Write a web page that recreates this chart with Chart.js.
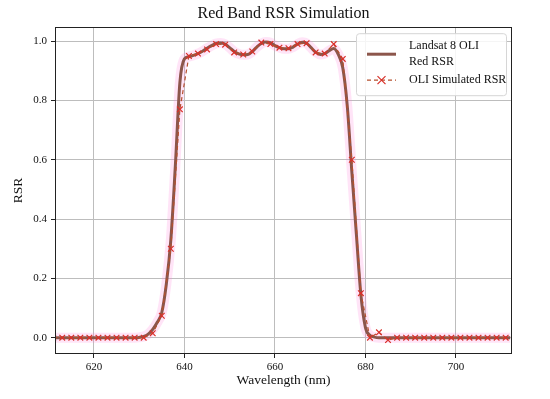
<!DOCTYPE html>
<html>
<head>
<meta charset="utf-8">
<script src="https://cdn.jsdelivr.net/npm/chart.js@4"></script>
<style>
  html, body { margin: 0; padding: 0; background: #fff; }
  #wrap { width: 550px; height: 399px; position: relative; }
</style>
</head>
<body>
<div id="wrap"><canvas id="c" width="550" height="399"></canvas></div>
<script>
// ---- data ----
const lineWavelengths = [611,612,613,614,615,616,617,618,619,620,621,622,623,624,625,626,627,628,629,630,
  631,632,633,634,635,636,637,638,639,640,641,642,643,644,645,646,647,648,649,650,
  651,652,653,654,655,656,657,658,659,660,661,662,663,664,665,666,667,668,669,670,
  671,672,673,674,675,676,677,678,679,680,681,682,683,684,685,686,687,688,689,690,
  691,692,693,694,695,696,697,698,699,700,701,702,703,704,705,706,707,708,709,710,711,712];
const landsatRSR = [0,0,0,0,0,0,0,0,0,0,0,0,0,0,0,0,0,0,0,0.001,
  0.004,0.012,0.028,0.052,0.085,0.18,0.33,0.58,0.86,0.94,0.948,0.952,0.958,0.966,0.976,0.985,0.992,0.994,0.99,0.978,
  0.965,0.957,0.954,0.955,0.965,0.98,0.992,0.997,0.995,0.985,0.978,0.974,0.974,0.98,0.99,0.996,0.993,0.978,0.963,0.955,
  0.958,0.968,0.975,0.955,0.91,0.78,0.56,0.35,0.145,0.035,0.008,0.002,0,0,0,0,0,0,0,0,
  0,0,0,0,0,0,0,0,0,0,0,0,0,0,0,0,0,0,0,0,0,0];
const simWavelengths = [611,613,615,617,619,621,623,625,627,629,631,633,635,637,639,641,643,645,647,649,
  651,653,655,657,659,661,663,665,667,669,671,673,675,677,679,681,683,685,687,689,
  691,693,695,697,699,701,703,705,707,709,711];
const simulatedRSR = [0,0,0,0,0,0,0,0,0,0,0,0.015,0.074,0.30,0.77,0.95,0.958,0.972,0.99,0.988,
  0.962,0.955,0.965,0.995,0.99,0.978,0.976,0.99,0.993,0.962,0.958,0.99,0.94,0.60,0.15,0.0,0.018,-0.008,0,0,
  0,0,0,0,0,0,0,0,0,0,0];
const xTicks = [620, 640, 660, 680, 700];
const yTicks = [0.0, 0.2, 0.4, 0.6, 0.8, 1.0];
const titleText = 'Red Band RSR Simulation';
const xTitle = 'Wavelength (nm)';
const yTitle = 'RSR';
const legendLabels = [['Landsat 8 OLI', 'Red RSR'], ['OLI Simulated RSR']];

// ---- styling ----
const SERIF = "'Liberation Serif', 'Times New Roman', serif";
const BROWN = '#8c564b';
const SIM_LINE = '#b5502e';
const SIM_MARK = '#d9302a';

const linePts = lineWavelengths.map((x, i) => ({x, y: landsatRSR[i]}));
const simPts = simWavelengths.map((x, i) => ({x, y: simulatedRSR[i]}));

const boxPlugin = {
  id: 'box',
  afterDatasetsDraw(chart) {
    const {ctx, chartArea: a} = chart;
    ctx.save();
    ctx.strokeStyle = '#222';
    ctx.lineWidth = 1;
    ctx.strokeRect(Math.round(a.left) + 0.5, Math.round(a.top) + 0.5,
      Math.round(a.right - a.left) - 1, Math.round(a.bottom - a.top) - 1);
    ctx.restore();
  }
};

const legendPlugin = {
  id: 'customLegend',
  afterDraw(chart) {
    const {ctx, chartArea: a} = chart;
    const bx = a.right - 156, by = a.top + 6, bw = 150, bh = 62;
    ctx.save();
    ctx.fillStyle = 'rgba(255,255,255,0.85)';
    ctx.strokeStyle = '#d6d6d6';
    ctx.lineWidth = 1;
    ctx.beginPath();
    ctx.roundRect(bx + 0.5, by + 0.5, bw, bh, 3);
    ctx.fill();
    ctx.stroke();
    // entry 1
    const sx0 = bx + 11, sx1 = bx + 40;
    ctx.strokeStyle = BROWN;
    ctx.lineWidth = 3;
    ctx.beginPath(); ctx.moveTo(sx0, by + 21); ctx.lineTo(sx1, by + 21); ctx.stroke();
    // entry 2
    ctx.strokeStyle = SIM_LINE;
    ctx.lineWidth = 1.2;
    ctx.setLineDash([4, 3]);
    ctx.beginPath(); ctx.moveTo(sx0, by + 47); ctx.lineTo(sx1, by + 47); ctx.stroke();
    ctx.setLineDash([]);
    const mx = (sx0 + sx1) / 2, my = by + 47, r = 4;
    ctx.strokeStyle = SIM_MARK;
    ctx.lineWidth = 1.2;
    ctx.beginPath();
    ctx.moveTo(mx - r, my - r); ctx.lineTo(mx + r, my + r);
    ctx.moveTo(mx - r, my + r); ctx.lineTo(mx + r, my - r);
    ctx.stroke();
    ctx.fillStyle = '#111';
    ctx.font = '12px ' + SERIF;
    ctx.textBaseline = 'middle';
    ctx.fillText(legendLabels[0][0], bx + 53, by + 13);
    ctx.fillText(legendLabels[0][1], bx + 53, by + 29);
    ctx.fillText(legendLabels[1][0], bx + 53, by + 47);
    ctx.restore();
  }
};

new Chart(document.getElementById('c'), {
  type: 'line',
  data: {
    datasets: [
      {
        label: legendLabels[1][0],
        data: simPts,
        borderColor: SIM_LINE,
        borderWidth: 1.2,
        borderDash: [4, 3],
        pointStyle: 'crossRot',
        pointRadius: 4,
        pointBorderColor: SIM_MARK,
        pointBorderWidth: 1.2,
        pointBackgroundColor: SIM_MARK,
        fill: false,
        order: 1
      },
      {
        label: legendLabels[0].join(' '),
        data: linePts,
        borderColor: BROWN,
        borderWidth: 3,
        pointRadius: 0,
        cubicInterpolationMode: 'monotone',
        fill: false,
        order: 2
      },
      {
        label: 'halo',
        data: linePts,
        borderColor: 'rgba(255,130,220,0.22)',
        borderWidth: 10,
        pointRadius: 0,
        cubicInterpolationMode: 'monotone',
        fill: false,
        order: 3
      }
    ]
  },
  options: {
    responsive: false,
    animation: false,
    layout: { padding: { left: 0, right: 38, top: 0, bottom: 0 } },
    plugins: {
      legend: { display: false },
      tooltip: { enabled: false },
      title: {
        display: true,
        text: titleText,
        fullSize: false,
        color: '#111',
        font: { family: SERIF, size: 16, weight: 'normal', lineHeight: 1.2 },
        padding: { top: 4, bottom: 4 }
      }
    },
    scales: {
      x: {
        type: 'linear',
        min: 611.4,
        max: 712.4,
        afterFit(s) { s.height = 45; },
        afterBuildTicks(s) { s.ticks = xTicks.map(v => ({value: v})); },
        ticks: {
          includeBounds: false,
          color: '#111',
          padding: 3,
          maxRotation: 0,
          font: { family: SERIF, size: 11 },
          callback: v => String(v)
        },
        grid: { color: '#bdbdbd', lineWidth: 1, tickColor: '#222', tickLength: 4, drawTicks: true },
        border: { display: false },
        title: {
          display: true,
          text: xTitle,
          color: '#111',
          font: { family: SERIF, size: 13.5, lineHeight: 1.2 },
          padding: { top: 0, bottom: 10 }
        }
      },
      y: {
        type: 'linear',
        min: -0.055,
        max: 1.047,
        afterFit(s) { s.width = 55; },
        afterBuildTicks(s) { s.ticks = yTicks.map(v => ({value: v})); },
        ticks: {
          includeBounds: false,
          color: '#111',
          padding: 4,
          font: { family: SERIF, size: 11 },
          callback: v => Number(v).toFixed(1)
        },
        grid: { color: '#bdbdbd', lineWidth: 1, tickColor: '#222', tickLength: 4, drawTicks: true },
        border: { display: false },
        title: {
          display: true,
          text: yTitle,
          color: '#111',
          font: { family: SERIF, size: 13.5, lineHeight: 1.2 },
          padding: { top: 10, bottom: 0 }
        }
      }
    }
  },
  plugins: [boxPlugin, legendPlugin]
});
</script>
</body>
</html>
